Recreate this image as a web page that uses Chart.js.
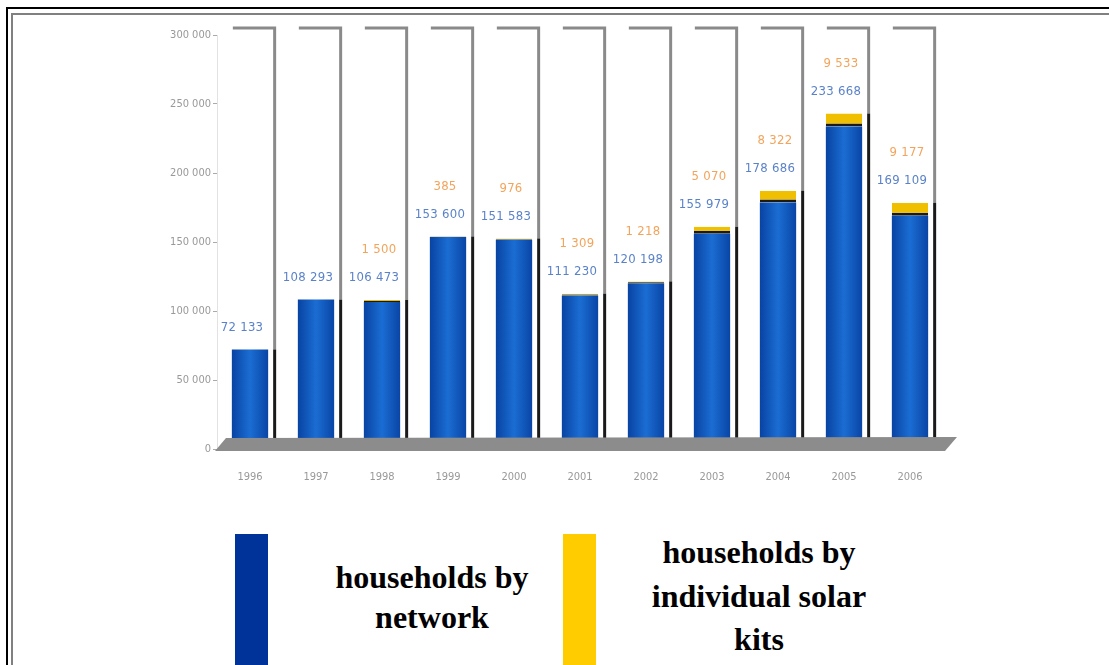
<!DOCTYPE html>
<html>
<head>
<meta charset="utf-8">
<script src="https://cdn.jsdelivr.net/npm/chart.js@4.4.1/dist/chart.umd.min.js"></script>
<style>
    html, body { margin: 0; padding: 0; background: #fff; overflow: hidden; }
    body { width: 1109px; height: 665px; position: relative; }
    .frame-outer { position: absolute; left: 6px; top: 7px; width: 2000px; height: 2000px;
        border-left: 2px solid #000; border-top: 2px solid #000; }
    .frame-inner { position: absolute; left: 11px; top: 13px; width: 2000px; height: 2000px;
        border-left: 2px solid #808080; border-top: 2px solid #808080; }
    #chartBox { position: absolute; left: 0; top: 0; width: 1109px; height: 500px; }
    .swatch { position: absolute; top: 534px; width: 33px; height: 200px; }
    .legend-text { position: absolute; font-family: "Liberation Serif", "Times New Roman", serif;
        font-weight: bold; font-size: 32px; color: #000; text-align: center; white-space: nowrap; }
</style>
</head>
<body>
<div class="frame-outer"></div>
<div class="frame-inner"></div>
<div id="chartBox"><canvas id="householdsChart"></canvas></div>

<div class="swatch" style="left:235px; background:#003399;"></div>
<div class="legend-text" style="left:282px; width:300px; top:557px; line-height:40px;">households by<br>network</div>
<div class="swatch" style="left:563px; background:#ffcc00;"></div>
<div class="legend-text" style="left:609px; width:300px; top:531px; line-height:43.5px;">households by<br>individual solar<br>kits</div>

<script>
// Data
const years = ['1996', '1997', '1998', '1999', '2000', '2001', '2002', '2003', '2004', '2005', '2006'];
const networkHouseholds = [72133, 108293, 106473, 153600, 151583, 111230, 120198, 155979, 178686, 233668, 169109];
const solarKitHouseholds = [null, null, 1500, 385, 976, 1309, 1218, 5070, 8322, 9533, 9177];
const yTicks = [0, 50000, 100000, 150000, 200000, 250000, 300000];

const BAR_PCT = 0.55;
const SMALL_FONT = '"DejaVu Sans Condensed", "Liberation Sans Narrow", sans-serif';

function spaced(v) {
    return String(v).replace(/\B(?=(\d{3})+(?!\d))/g, ' ');
}

// Cylinder-like shading for the network bars
function blueGradient(c) {
    const xs = c.chart.scales.x;
    if (!xs || !isFinite(xs.width)) return '#0d55b8';
    const cx = xs.getPixelForValue(c.dataIndex);
    const w = xs.width / years.length * BAR_PCT;
    const g = c.chart.ctx.createLinearGradient(cx - w / 2, 0, cx + w / 2, 0);
    g.addColorStop(0, '#0843a2');
    g.addColorStop(0.5, '#1b6dd3');
    g.addColorStop(1, '#0945a6');
    return g;
}

// Back panels, floor and value labels
const decorPlugin = {
    id: 'decor',
    beforeDatasetsDraw(chart) {
        const { ctx, scales: { x, y } } = chart;
        const w = x.width / years.length * BAR_PCT;
        const topY = y.getPixelForValue(y.max) - 7;
        const floorTop = y.getPixelForValue(0) - 11;
        ctx.save();
        ctx.lineWidth = 3;
        years.forEach((yr, i) => {
            const cx = x.getPixelForValue(i);
            const left = cx - w / 2, lineX = cx + w / 2 + 6.5;
            const stackTop = y.getPixelForValue(networkHouseholds[i] + (solarKitHouseholds[i] || 0));
            ctx.strokeStyle = '#8a8a8a';
            ctx.beginPath();
            ctx.moveTo(left + 1, topY);
            ctx.lineTo(lineX, topY);
            ctx.lineTo(lineX, stackTop);
            ctx.stroke();
            ctx.strokeStyle = '#1a1a1a';
            ctx.beginPath();
            ctx.moveTo(lineX, stackTop);
            ctx.lineTo(lineX, floorTop);
            ctx.stroke();
        });
        ctx.restore();
    },
    afterDatasetsDraw(chart) {
        const { ctx, chartArea: a, scales: { x, y } } = chart;
        const y0 = y.getPixelForValue(0);
        ctx.save();
        // floor
        ctx.fillStyle = '#8c8c8c';
        ctx.beginPath();
        ctx.moveTo(a.left - 2, y0 + 2);
        ctx.lineTo(a.left + 9, y0 - 11);
        ctx.lineTo(a.right + 14, y0 - 12);
        ctx.lineTo(a.right + 2, y0 + 2);
        ctx.closePath();
        ctx.fill();

        // value labels
        ctx.font = '13px ' + SMALL_FONT;
        ctx.letterSpacing = '0.3px';
        ctx.textAlign = 'center';
        ctx.textBaseline = 'middle';
        years.forEach((yr, i) => {
            const cx = x.getPixelForValue(i);
            const top = y.getPixelForValue(networkHouseholds[i] + (solarKitHouseholds[i] || 0));
            const blueY = top - 22;
            ctx.fillStyle = '#5b82c8';
            ctx.fillText(spaced(networkHouseholds[i]), cx - 8, blueY);
            if (solarKitHouseholds[i]) {
                ctx.fillStyle = '#f2a45c';
                ctx.fillText(spaced(solarKitHouseholds[i]), cx - 3, blueY - 28);
            }
        });
        ctx.restore();
    }
};

document.addEventListener('DOMContentLoaded', function() {
    const ctx = document.getElementById('householdsChart').getContext('2d');
    new Chart(ctx, {
        type: 'bar',
        data: {
            labels: years,
            datasets: [{
                label: 'households by network',
                data: networkHouseholds,
                backgroundColor: blueGradient,
                borderWidth: 0,
                stack: 'h',
                categoryPercentage: 1,
                barPercentage: BAR_PCT
            }, {
                label: 'households by individual solar kits',
                data: solarKitHouseholds,
                backgroundColor: '#f0c000',
                borderColor: '#1a1a1a',
                borderWidth: { top: 0, left: 0, right: 0, bottom: 3 },
                borderSkipped: false,
                stack: 'h',
                categoryPercentage: 1,
                barPercentage: BAR_PCT
            }]
        },
        options: {
            responsive: true,
            maintainAspectRatio: false,
            animation: false,
            layout: { padding: { left: 147, right: 166, top: 35, bottom: 0 } },
            plugins: {
                legend: { display: false },
                tooltip: { enabled: false }
            },
            scales: {
                x: {
                    stacked: true,
                    grid: { display: false },
                    border: { display: false },
                    ticks: {
                        color: '#999',
                        padding: 14,
                        font: { family: SMALL_FONT, size: 11 }
                    },
                    afterFit(scale) { scale.height = 51; }
                },
                y: {
                    stacked: true,
                    min: 0,
                    max: 300000,
                    afterBuildTicks(scale) { scale.ticks = yTicks.map(v => ({ value: v })); },
                    grid: { drawOnChartArea: false, tickLength: 4, tickColor: '#aaa' },
                    border: { color: '#e2e2e2' },
                    ticks: {
                        color: '#999',
                        padding: 2,
                        font: { family: SMALL_FONT, size: 11 },
                        callback: v => spaced(v)
                    },
                    afterFit(scale) { scale.width = 70; }
                }
            }
        },
        plugins: [decorPlugin]
    });
});
</script>
</body>
</html>
